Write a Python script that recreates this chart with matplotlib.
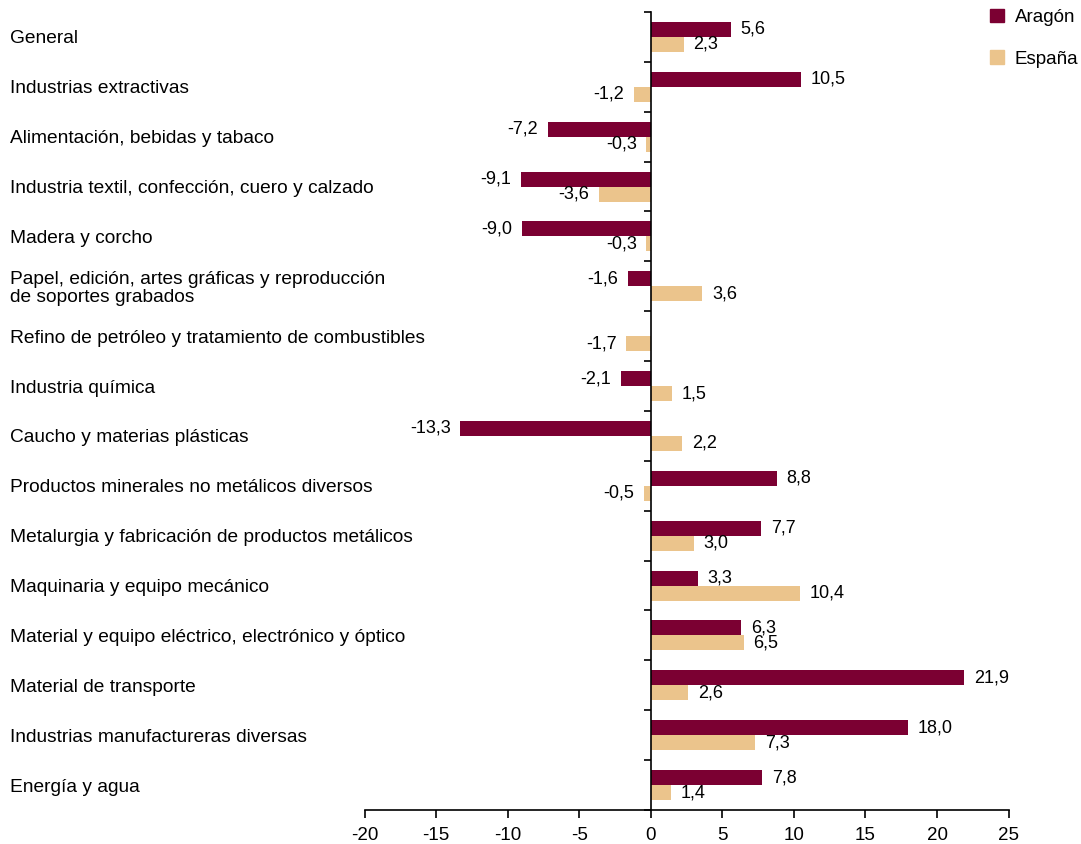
import numpy as np
import matplotlib
matplotlib.use('Agg')
import matplotlib.pyplot as plt
from matplotlib.patches import Patch

plt.rcParams['font.family'] = ['Liberation Sans', 'DejaVu Sans']

# --- Datos ---
categorias = [
    "General",
    "Industrias extractivas",
    "Alimentación, bebidas y tabaco",
    "Industria textil, confección, cuero y calzado",
    "Madera y corcho",
    "Papel, edición, artes gráficas y reproducción\nde soportes grabados",
    "Refino de petróleo y tratamiento de combustibles",
    "Industria química",
    "Caucho y materias plásticas",
    "Productos minerales no metálicos diversos",
    "Metalurgia y fabricación de productos metálicos",
    "Maquinaria y equipo mecánico",
    "Material y equipo eléctrico, electrónico y óptico",
    "Material de transporte",
    "Industrias manufactureras diversas",
    "Energía y agua",
]
aragon = [5.6, 10.5, -7.2, -9.1, -9.0, -1.6, np.nan, -2.1, -13.3, 8.8,
          7.7, 3.3, 6.3, 21.9, 18.0, 7.8]
espana = [2.3, -1.2, -0.3, -3.6, -0.3, 3.6, -1.7, 1.5, 2.2, -0.5,
          3.0, 10.4, 6.5, 2.6, 7.3, 1.4]
xticks = [-20, -15, -10, -5, 0, 5, 10, 15, 20, 25]

col_aragon = '#7B0032'
col_espana = '#EBC48C'

fig = plt.figure(figsize=(10.81, 8.44), dpi=100)
ax = fig.add_axes([0.3372, 0.0403, 0.5958, 0.9455])

n = len(categorias)
y = np.arange(n)
h = 0.3

ax.barh(y - h / 2, aragon, height=h, color=col_aragon)
ax.barh(y + h / 2, espana, height=h, color=col_espana)

def fmt(v):
    return f"{v:.1f}".replace('.', ',')

for yi, (a, e) in enumerate(zip(aragon, espana)):
    for v, yy in ((a, yi - h / 2), (e, yi + h / 2)):
        if np.isnan(v):
            continue
        off = 7 if v >= 0 else -7
        ax.annotate(fmt(v), (v, yy), xytext=(off, 0), textcoords='offset points',
                    ha='left' if v >= 0 else 'right', va='center', fontsize=13)

ax.set_xlim(-20, 25)
ax.set_ylim(n - 0.5, -0.5)
ax.set_xticks(xticks)
ax.set_xticklabels([str(t) for t in xticks], fontsize=13.5)
ax.set_yticks(np.arange(n + 1) - 0.5)
ax.set_yticklabels([])

for s in ['top', 'right']:
    ax.spines[s].set_visible(False)
ax.spines['left'].set_position(('data', 0))
ax.spines['left'].set_linewidth(1.2)
ax.spines['bottom'].set_linewidth(1.2)
ax.tick_params(axis='y', direction='out', length=5, width=1.2)
ax.tick_params(axis='x', direction='out', length=6, width=1.2, pad=6)

# Etiquetas de categoría alineadas a la izquierda
for i, c in enumerate(categorias):
    yd = ax.transData.transform((0, i))[1]
    yf = fig.transFigure.inverted().transform((0, yd - 2))[1]
    fig.text(10 / 1081, yf, c, ha='left', va='center', fontsize=13.8,
             linespacing=1.1)

handles = [Patch(color=col_aragon), Patch(color=col_espana)]
fig.legend(handles, ['Aragón', 'España'], loc='upper right',
           bbox_to_anchor=(1.008, 1.003), frameon=False, fontsize=13.5,
           handlelength=0.75, handleheight=0.75, handletextpad=0.55,
           labelspacing=1.3, borderaxespad=0.2)

fig.savefig('out.png', dpi=100)
